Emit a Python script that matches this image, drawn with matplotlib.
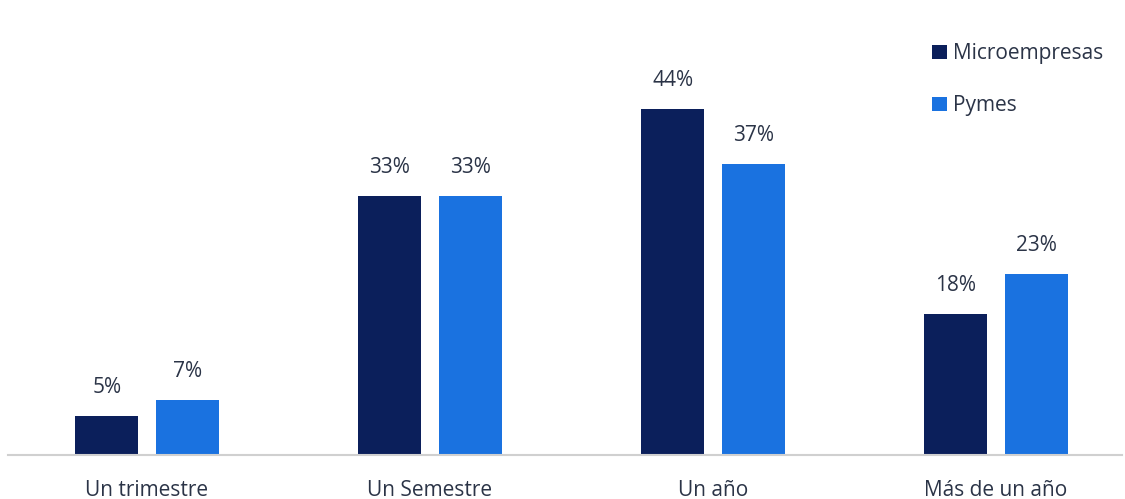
import matplotlib.pyplot as plt
import numpy as np

categorias = ['Un trimestre', 'Un Semestre', 'Un año', 'Más de un año']
microempresas = [5, 33, 44, 18]
pymes = [7, 33, 37, 23]
series = ['Microempresas', 'Pymes']

plt.rcParams['font.family'] = ['Open Sans', 'DejaVu Sans']

c_dark = '#0b1f5b'
c_light = '#1a72e0'
c_text = '#2b3447'

fig = plt.figure(figsize=(11.25, 4.99), dpi=100)
ax = fig.add_axes([8 / 1125, 1 - 455 / 499, 1114 / 1125, 395 / 499])

x = np.arange(len(categorias))
w = 0.223
b1 = ax.bar(x - 0.142, microempresas, w, color=c_dark, label=series[0])
b2 = ax.bar(x + 0.142, pymes, w, color=c_light, label=series[1])

for bars, vals in [(b1, microempresas), (b2, pymes)]:
    for b, v in zip(bars, vals):
        ax.annotate(f'{v}%', (b.get_x() + b.get_width() / 2, v),
                    xytext=(0, 13), textcoords='offset points',
                    ha='center', va='bottom', fontsize=15, color=c_text)

ax.set_xlim(-0.491, 3.445)
ax.set_ylim(0, 50.3)
ax.set_xticks(x)
ax.set_xticklabels(categorias, fontsize=15, color=c_text)
ax.tick_params(axis='x', length=0, pad=18)
ax.set_yticks([])
for s in ['top', 'right', 'left']:
    ax.spines[s].set_visible(False)
ax.spines['bottom'].set_color('#d0d0d0')
ax.spines['bottom'].set_linewidth(1.5)

ax.legend(loc='upper right', bbox_to_anchor=(1.0, 1.09), frameon=False,
          fontsize=15, handlelength=0.7, handleheight=0.7, handletextpad=0.3,
          labelspacing=1.5, labelcolor=c_text)

fig.savefig('out.png', dpi=100)
